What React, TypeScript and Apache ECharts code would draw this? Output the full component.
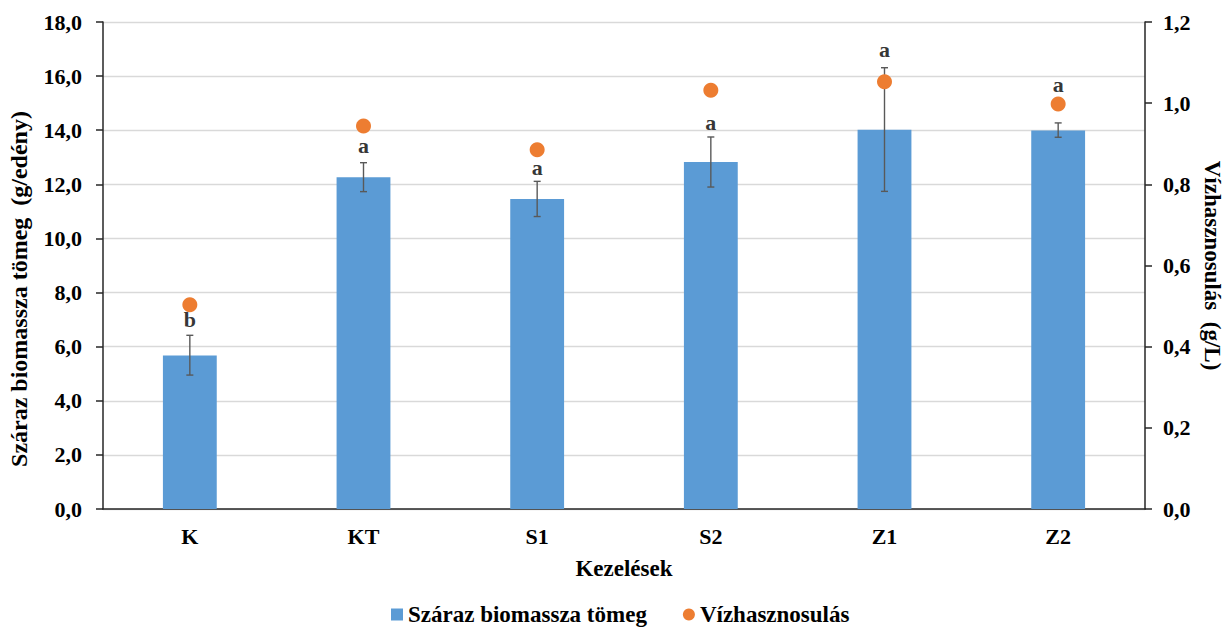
import React, { useEffect, useRef } from "react";
import * as echarts from "echarts";

const categories = ["K", "KT", "S1", "S2", "Z1", "Z2"];
const biomass = [5.67, 12.26, 11.46, 12.83, 14.02, 13.99];
const biomassLow = [4.95, 11.73, 10.81, 11.9, 11.74, 13.74];
const biomassHigh = [6.42, 12.8, 12.11, 13.75, 16.31, 14.27];
const waterUse = [0.503, 0.944, 0.885, 1.032, 1.053, 0.998];
const letters = ["b", "a", "a", "a", "a", "a"];
const letterPos = [7.0, 13.42, 12.64, 14.3, 17.0, 15.7];
const leftTitle = "Száraz biomassza tömeg  (g/edény)";

const FONT = "Liberation Serif";
const fmt = (v: number) => v.toFixed(1).replace(".", ",");

export default function App() {
  const ref = useRef<HTMLDivElement>(null);
  useEffect(() => {
    if (!ref.current) return;
    const chart = echarts.init(ref.current, undefined, { renderer: "svg" });
    const textBase = { fontFamily: FONT, fontWeight: "bold" as const, color: "#000" };
    chart.setOption({
      animation: false,
      textStyle: { fontFamily: FONT },
      grid: {
        left: 103,
        right: 83,
        top: 22,
        bottom: 119,
        containLabel: false,
        outerBoundsMode: "none",
      },
      graphic: [
        {
          type: "text",
          x: 19,
          y: 289,
          rotation: Math.PI / 2,
          style: {
            text: leftTitle,
            fontFamily: FONT,
            fontWeight: "bold",
            fontSize: 24,
            fill: "#000",
            align: "center",
            verticalAlign: "middle",
          },
        },
      ],
      legend: {
        data: [
          { name: "Száraz biomassza tömeg", icon: "rect" },
          { name: "Vízhasznosulás", icon: "circle" },
        ],
        top: 598,
        left: 386,
        itemWidth: 12,
        itemHeight: 12,
        itemGap: 36,
        textStyle: { ...textBase, fontSize: 23 },
      },
      xAxis: {
        type: "category",
        data: categories,
        name: "Kezelések",
        nameLocation: "middle",
        nameGap: 48,
        nameTextStyle: { ...textBase, fontSize: 23 },
        axisLine: { lineStyle: { color: "#262626", width: 1.5 } },
        axisTick: { show: false },
        axisLabel: { ...textBase, fontSize: 22, margin: 16 },
      },
      yAxis: [
        {
          type: "value",
          min: 0,
          max: 18,
          interval: 2,
          axisLine: { show: true, lineStyle: { color: "#262626", width: 1.5 } },
          axisTick: { show: true, length: 7, lineStyle: { color: "#262626", width: 1.5 } },
          axisLabel: { ...textBase, fontSize: 22, margin: 21, formatter: fmt },
          splitLine: { lineStyle: { color: "#d9d9d9", width: 1.3 } },
        },
        {
          type: "value",
          min: 0,
          max: 1.2,
          interval: 0.2,
          position: "right",
          name: "Vízhasznosulás  (g/L)",
          nameLocation: "middle",
          nameRotate: -90,
          nameGap: 56,
          nameTextStyle: { ...textBase, fontSize: 23 },
          axisLine: { show: true, lineStyle: { color: "#262626", width: 1.5 } },
          axisTick: { show: true, length: 7, lineStyle: { color: "#262626", width: 1.5 } },
          axisLabel: { ...textBase, fontSize: 22, margin: 18, formatter: fmt },
          splitLine: { show: false },
        },
      ],
      series: [
        {
          name: "Száraz biomassza tömeg",
          type: "bar",
          data: biomass,
          barWidth: "31%",
          itemStyle: { color: "#5b9bd5" },
          z: 2,
        },
        {
          name: "errors",
          type: "custom",
          data: categories.map((_, i) => [i, biomassLow[i], biomassHigh[i]]),
          encode: { x: 0, y: [1, 2] },
          z: 3,
          renderItem: (params: any, api: any) => {
            const idx = api.value(0);
            const lo = api.coord([idx, api.value(1)]);
            const hi = api.coord([idx, api.value(2)]);
            const cap = 3.5;
            const style = { stroke: "#595959", lineWidth: 1.4 };
            return {
              type: "group",
              children: [
                { type: "line", shape: { x1: hi[0], y1: hi[1], x2: lo[0], y2: lo[1] }, style },
                { type: "line", shape: { x1: hi[0] - cap, y1: hi[1], x2: hi[0] + cap, y2: hi[1] }, style },
                { type: "line", shape: { x1: lo[0] - cap, y1: lo[1], x2: lo[0] + cap, y2: lo[1] }, style },
              ],
            };
          },
        },
        {
          name: "letters",
          type: "scatter",
          data: letterPos,
          symbolSize: 1,
          itemStyle: { color: "rgba(0,0,0,0)" },
          z: 4,
          label: {
            show: true,
            position: "inside",
            formatter: (p: any) => letters[p.dataIndex],
            ...textBase,
            fontSize: 22,
          },
        },
        {
          name: "Vízhasznosulás",
          type: "scatter",
          yAxisIndex: 1,
          data: waterUse,
          symbol: "circle",
          symbolSize: 15,
          itemStyle: { color: "#ed7d31", opacity: 1 },
          z: 5,
        },
      ],
    });
    return () => chart.dispose();
  }, []);
  return (
    <div
      ref={ref}
      style={{ position: "fixed", left: 0, top: 0, width: 1228, height: 628, background: "#fff" }}
    />
  );
}
